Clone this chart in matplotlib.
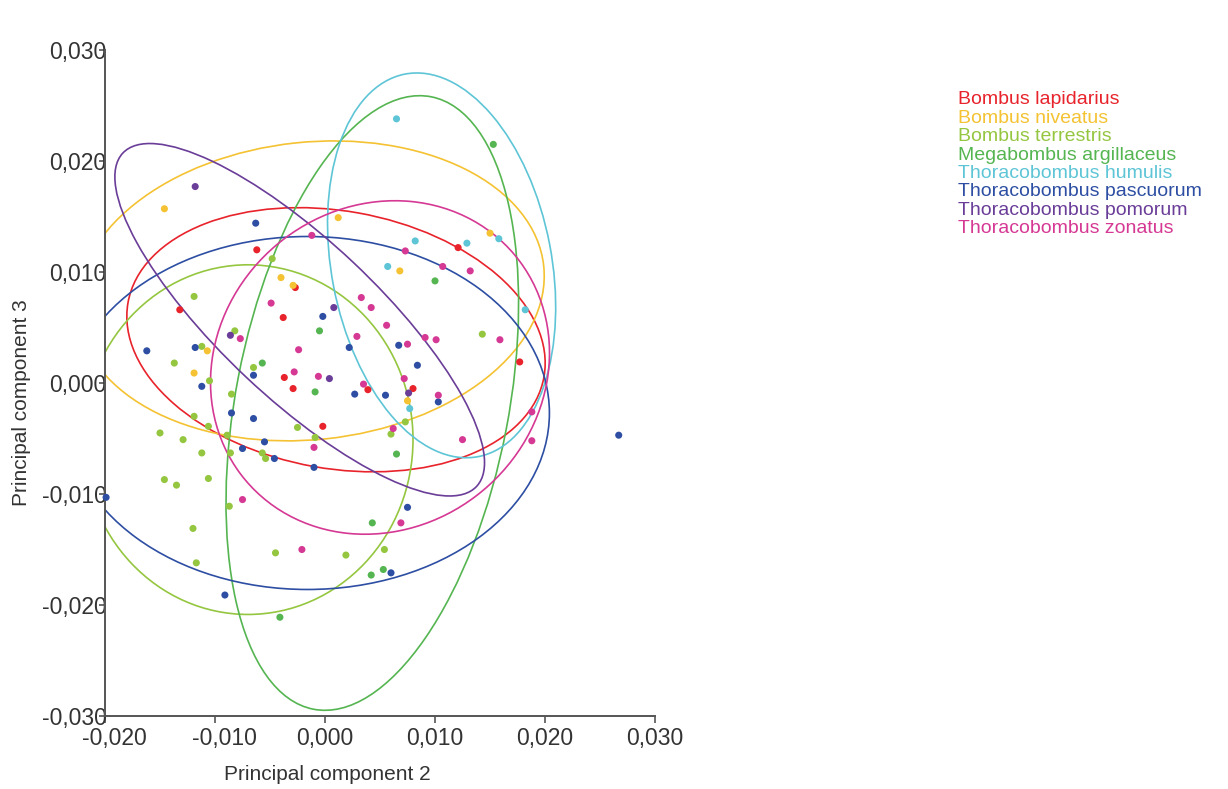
import numpy as np
import matplotlib
matplotlib.use("Agg")
import matplotlib.pyplot as plt
import matplotlib.transforms as mtransforms
from matplotlib.patches import Ellipse
from matplotlib.ticker import FuncFormatter, MultipleLocator

plt.rcParams["font.family"] = ["Liberation Sans", "DejaVu Sans"]

species = ["Bombus lapidarius", "Bombus niveatus", "Bombus terrestris",
           "Megabombus argillaceus", "Thoracobombus humulis",
           "Thoracobombus pascuorum", "Thoracobombus pomorum",
           "Thoracobombus zonatus"]
colors = ["#E8232B", "#F4C232", "#95C640", "#55B551", "#5EC5D6",
          "#2D4EA2", "#6A3D98", "#D53994"]

# PC2 / PC3 scores
lapidarius_x = [-0.0062, -0.0027, -0.0132, -0.0038, -0.0037, -0.0029, -0.0002, 0.0039, 0.0080, 0.0121, 0.0177]
lapidarius_y = [0.0120, 0.0086, 0.0066, 0.0059, 0.0005, -0.0005, -0.0039, -0.0006, -0.0005, 0.0122, 0.0019]

niveatus_x = [-0.0146, -0.0040, -0.0029, -0.0107, -0.0119, 0.0012, 0.0068, 0.0150, 0.0075]
niveatus_y = [0.0157, 0.0095, 0.0088, 0.0029, 0.0009, 0.0149, 0.0101, 0.0135, -0.0016]

terrestris_x = [-0.0048, -0.0119, -0.0082, -0.0112, -0.0137, -0.0065, -0.0105, -0.0119, -0.0106,
                -0.0150, -0.0129, -0.0089, -0.0112, -0.0086, -0.0057, -0.0054, -0.0025, -0.0009,
                -0.0146, -0.0135, -0.0106, -0.0087, -0.0120, -0.0117, -0.0045, 0.0073, 0.0060,
                0.0019, 0.0054, 0.0143, -0.0085]
terrestris_y = [0.0112, 0.0078, 0.0047, 0.0033, 0.0018, 0.0014, 0.0002, -0.0030, -0.0039,
                -0.0045, -0.0051, -0.0047, -0.0063, -0.0063, -0.0063, -0.0068, -0.0040, -0.0049,
                -0.0087, -0.0092, -0.0086, -0.0111, -0.0131, -0.0162, -0.0153, -0.0035, -0.0046,
                -0.0155, -0.0150, 0.0044, -0.0010]

argillaceus_x = [-0.0005, -0.0057, -0.0009, 0.0100, 0.0153, 0.0065, 0.0043, 0.0042, 0.0053, -0.0041]
argillaceus_y = [0.0047, 0.0018, -0.0008, 0.0092, 0.0215, -0.0064, -0.0126, -0.0173, -0.0168, -0.0211]

humulis_x = [0.0065, 0.0082, 0.0057, 0.0129, 0.0158, 0.0182, 0.0077]
humulis_y = [0.0238, 0.0128, 0.0105, 0.0126, 0.0130, 0.0066, -0.0023]

pascuorum_x = [-0.0063, -0.0002, -0.0162, -0.0118, -0.0065, -0.0112, -0.0085, -0.0065, -0.0075,
               -0.0055, -0.0046, -0.0010, -0.0199, -0.0091, 0.0022, 0.0067, 0.0084, 0.0027,
               0.0055, 0.0103, 0.0075, 0.0060, 0.0267]
pascuorum_y = [0.0144, 0.0060, 0.0029, 0.0032, 0.0007, -0.0003, -0.0027, -0.0032, -0.0059,
               -0.0053, -0.0068, -0.0076, -0.0103, -0.0191, 0.0032, 0.0034, 0.0016, -0.0010,
               -0.0011, -0.0017, -0.0112, -0.0171, -0.0047]

pomorum_x = [-0.0118, -0.0086, 0.0008, 0.0004, 0.0076]
pomorum_y = [0.0177, 0.0043, 0.0068, 0.0004, -0.0009]

zonatus_x = [-0.0012, -0.0049, -0.0077, -0.0024, -0.0028, -0.0006, 0.0073, 0.0107, 0.0132, 0.0033,
             0.0042, 0.0056, 0.0029, 0.0075, 0.0091, 0.0101, 0.0159, 0.0072, 0.0035, 0.0103,
             0.0062, 0.0125, 0.0188, 0.0188, -0.0010, -0.0075, -0.0021, 0.0069]
zonatus_y = [0.0133, 0.0072, 0.0040, 0.0030, 0.0010, 0.0006, 0.0119, 0.0105, 0.0101, 0.0077,
             0.0068, 0.0052, 0.0042, 0.0035, 0.0041, 0.0039, 0.0039, 0.0004, -0.0001, -0.0011,
             -0.0041, -0.0051, -0.0026, -0.0052, -0.0058, -0.0105, -0.0150, -0.0126]

xs = [lapidarius_x, niveatus_x, terrestris_x, argillaceus_x, humulis_x, pascuorum_x, pomorum_x, zonatus_x]
ys = [lapidarius_y, niveatus_y, terrestris_y, argillaceus_y, humulis_y, pascuorum_y, pomorum_y, zonatus_y]

# ellipses: centre x, centre y, full width, full height, angle (deg)
ell_cx = [0.0010, -0.0013, -0.0070, 0.0043, 0.0106, -0.0016, -0.0023, 0.0050]
ell_cy = [0.0039, 0.0083, -0.0051, -0.0018, 0.0106, -0.0027, 0.0057, 0.0014]
ell_w = [0.0384, 0.0426, 0.0300, 0.0562, 0.0351, 0.0440, 0.0440, 0.0318]
ell_h = [0.0232, 0.0268, 0.0315, 0.0248, 0.0200, 0.0318, 0.0142, 0.0290]
ell_ang = [-10, 6, 0, 79, 101, 0, -43, 37]

fig = plt.figure(figsize=(12.28, 7.89), dpi=100)
ax = fig.add_axes([0.0855, 0.0925, 0.4479, 0.8441])

for i in range(len(species)):
    e = Ellipse((ell_cx[i], ell_cy[i]), ell_w[i], ell_h[i], angle=ell_ang[i],
                fill=False, edgecolor=colors[i], linewidth=1.2)
    ax.add_patch(e)
for i in range(len(species)):
    ax.scatter(xs[i], ys[i], s=26, color=colors[i], edgecolors="none", zorder=3, clip_on=False)

ax.set_xlim(-0.02, 0.03)
ax.set_ylim(-0.03, 0.03)
ax.xaxis.set_major_locator(MultipleLocator(0.01))
ax.yaxis.set_major_locator(MultipleLocator(0.01))
fmt = FuncFormatter(lambda v, p: f"{v:.3f}".replace(".", ",").replace("-0,000", "0,000"))
ax.xaxis.set_major_formatter(fmt)
ax.yaxis.set_major_formatter(fmt)

for s in ["top", "right"]:
    ax.spines[s].set_visible(False)
for s in ["left", "bottom"]:
    ax.spines[s].set_color("#555555")
    ax.spines[s].set_linewidth(1.4)
ax.tick_params(axis="y", length=4, width=1.2, color="#555555", pad=-5, labelsize=16.5, labelcolor="#333333")
ax.tick_params(axis="x", length=5, width=1.2, color="#555555", pad=3, labelsize=16.5, labelcolor="#333333")

ax.set_xlabel("Principal component 2", fontsize=15, color="#333333")
ax.xaxis.set_label_coords(0.404, -0.074)
ax.set_ylabel("Principal component 3", fontsize=15, color="#333333")
ax.yaxis.set_label_coords(-0.135, 0.47)

# negative x labels sit a little right of their tick in the original
fig.canvas.draw()
shift = mtransforms.ScaledTranslation(9 / 100, 0, fig.dpi_scale_trans)
for t in ax.xaxis.get_major_ticks():
    if t.get_loc() < -1e-9:
        t.label1.set_transform(t.label1.get_transform() + shift)

for i, name in enumerate(species):
    fig.text(958 / 1228, 1 - (100 + 18.4 * i) / 789, name, color=colors[i],
             fontsize=14, va="center", ha="left")

fig.savefig("out.png", dpi=100)
